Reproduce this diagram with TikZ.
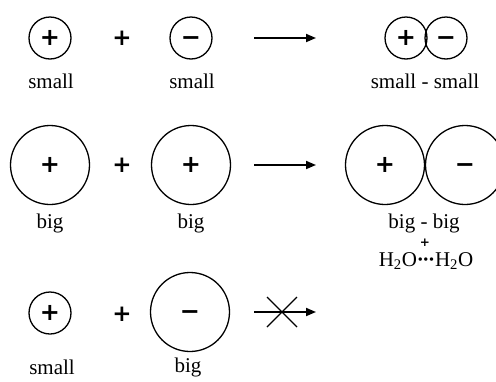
\documentclass[tikz,border=0pt]{standalone}
\usepackage{fontspec}
\setmainfont{Liberation Serif}
\newfontfamily\signfont{DejaVu Sans Bold}
\usetikzlibrary{arrows.meta}
\newcommand{\ionp}{{\signfont +}}
\newcommand{\ionm}{{\signfont\vphantom{+}−}}

\begin{document}
\begin{tikzpicture}[x=1pt,y=-1pt,>={Triangle[length=10pt,width=8pt]},
  ion/.style={draw,circle,line width=1.3pt,inner sep=0pt,font=\fontsize{24}{24}\selectfont},
  sml/.style={ion,minimum size=42pt},
  bg/.style={ion,minimum size=79pt},
  lbl/.style={anchor=base,font=\fontsize{21}{24}\selectfont},
  op/.style={font=\fontsize{23}{23}\selectfont\signfont},
  rx/.style={->,line width=1.8pt}]
  \useasboundingbox (0,0) rectangle (496,381);
  % reactants
  \node[sml] (a1) at (50,38) {\ionp};
  \node[sml] (b1) at (191,38) {\ionm};
  \node[bg]  (a2) at (50,165) {\ionp};
  \node[bg]  (b2) at (191,165) {\ionp};
  \node[sml] (a3) at (50,313) {\ionp};
  \node[bg]  (b3) at (190,312) {\ionm};
  \foreach \y/\n in {38/1,165/2,314/3} {\node[op] (o\n) at (122,\y) {+};}
  % products
  \node[sml] (p1) at (406,38) {\ionp};
  \node[sml] (m1) at (446,38) {\ionm};
  \node[bg]  (p2) at (385,165) {\ionp};
  \node[bg]  (m2) at (465,165) {\ionm};
  % labels
  \node[lbl] (la1) at (51,88) {small};
  \node[lbl] (lb1) at (192,88) {small};
  \node[lbl] (lp1) at (425,88) {small - small};
  \node[lbl] (la2) at (50,228) {big};
  \node[lbl] (lb2) at (191,228) {big};
  \node[lbl] (lp2) at (424,228) {big - big};
  \node[font=\fontsize{12}{12}\selectfont\signfont] (w) at (425,243) {+};
  \node[lbl] (hb) at (426,266) {H\textsubscript{2}O{\bfseries·\kern-1.5pt·\kern-1.5pt·}H\textsubscript{2}O};
  \node[lbl] (la3) at (52,374) {small};
  \node[lbl] (lb3) at (188,372) {big};
  % arrows
  \foreach \y/\n in {38/1,165/2,312/3} {
    \coordinate (s\n) at (254,\y); \coordinate (e\n) at (316,\y);
    \draw[rx] (s\n) -- (e\n);}
  \coordinate (x3) at (282,312);
  \draw[line width=1.3pt] (x3) ++(-15,-15) -- ++(30,30) (x3) ++(15,-15) -- ++(-30,30);
\end{tikzpicture}
\end{document}
